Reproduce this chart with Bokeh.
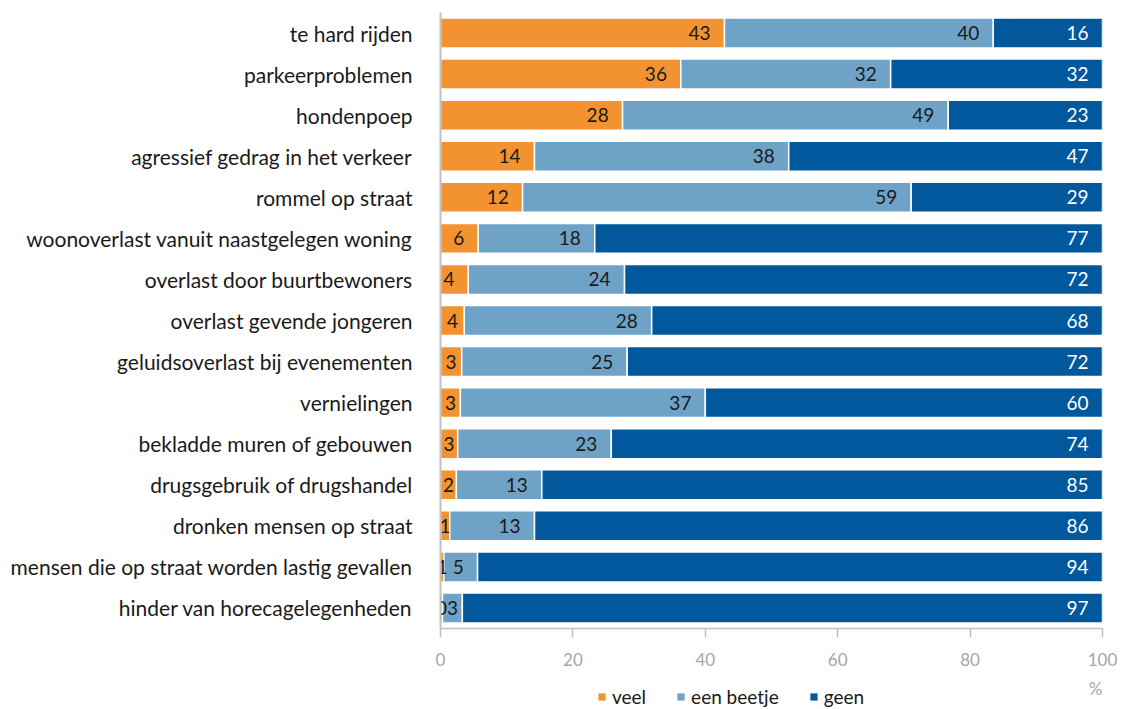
from bokeh.plotting import figure
from bokeh.layouts import column
from bokeh.models import ColumnDataSource, Legend, LegendItem, Label, FactorRange, Range1d
from bokeh.core.properties import value
from bokeh.embed import file_html
from bokeh.resources import INLINE

categories = [
    "te hard rijden",
    "parkeerproblemen",
    "hondenpoep",
    "agressief gedrag in het verkeer",
    "rommel op straat",
    "woonoverlast vanuit naastgelegen woning",
    "overlast door buurtbewoners",
    "overlast gevende jongeren",
    "geluidsoverlast bij evenementen",
    "vernielingen",
    "bekladde muren of gebouwen",
    "drugsgebruik of drugshandel",
    "dronken mensen op straat",
    "mensen die op straat worden lastig gevallen",
    "hinder van horecagelegenheden",
]
veel = [42.9, 36.3, 27.5, 14.2, 12.4, 5.7, 4.2, 3.6, 3.2, 3.0, 2.6, 2.4, 1.4, 0.5, 0.3]
een_beetje = [40.6, 31.7, 49.2, 38.4, 58.7, 17.6, 23.6, 28.3, 25.0, 37.0, 23.2, 12.9, 12.8, 5.1, 3.0]
geen = [16.5, 32.0, 23.3, 47.4, 28.9, 76.7, 72.2, 68.1, 71.8, 60.0, 74.2, 84.7, 85.8, 94.4, 96.7]
veel_lbl = [43, 36, 28, 14, 12, 6, 4, 4, 3, 3, 3, 2, 1, 1, 0]
een_beetje_lbl = [40, 32, 49, 38, 59, 18, 24, 28, 25, 37, 23, 13, 13, 5, 3]
geen_lbl = [16, 32, 23, 47, 29, 77, 72, 68, 72, 60, 74, 85, 86, 94, 97]
series_names = ["veel", "een beetje", "geen"]
tick_values = [0, 20, 40, 60, 80, 100]
unit_label = "%"

colors = ["#F29230", "#6EA2C7", "#02589C"]
label_colors = ["#1a1a1a", "#1a1a1a", "#ffffff"]
FONT = "Lato"

p = figure(
    frame_width=662, frame_height=616,
    y_range=FactorRange(*categories[::-1]),
    x_range=Range1d(0, 100),
    output_backend="svg", toolbar_location=None,
    min_border_left=440, min_border_right=19, min_border_top=12, min_border_bottom=42,
)
p.outline_line_color = None
p.xgrid.grid_line_color = None
p.ygrid.grid_line_color = None

all_vals = [veel, een_beetje, geen]
all_lbls = [veel_lbl, een_beetje_lbl, geen_lbl]
lefts = [0.0] * len(categories)
right_lbl = dict(x=[], y=[], t=[], c=[])
center_lbl = dict(x=[], y=[], t=[], c=[])
inset = 2.1
digit_w = 1.2
for k in range(3):
    vals = all_vals[k]
    rights = [l + v for l, v in zip(lefts, vals)]
    src = ColumnDataSource(dict(y=categories, left=lefts, right=rights))
    p.hbar(y="y", left="left", right="right", height=0.73, source=src,
           fill_color=colors[k], line_color="white", line_width=1.5)
    for i, cat in enumerate(categories):
        txt = str(all_lbls[k][i])
        s, e = lefts[i], rights[i]
        if e - inset - len(txt) * digit_w >= s + 0.6:
            d = right_lbl
            xpos = e - inset
        else:
            d = center_lbl
            xpos = (s + e) / 2
        d["x"].append(xpos)
        d["y"].append(cat)
        d["t"].append(txt)
        d["c"].append(label_colors[k])
    lefts = rights

for d, align in [(right_lbl, "right"), (center_lbl, "center")]:
    p.text(x="x", y="y", text="t", text_color="c", source=ColumnDataSource(d),
           text_align=align, text_baseline="middle",
           text_font=value(FONT), text_font_size="19px")

# axes
p.xaxis.ticker = tick_values
p.xaxis.axis_line_color = "#c0c0c0"
p.xaxis.axis_line_width = 1.5
p.xaxis.major_tick_line_color = "#c0c0c0"
p.xaxis.major_tick_line_width = 1.5
p.xaxis.major_tick_out = 9
p.xaxis.major_tick_in = 0
p.xaxis.minor_tick_line_color = None
p.xaxis.major_label_text_color = "#a6a6a6"
p.xaxis.major_label_text_font = FONT
p.xaxis.major_label_text_font_size = "17px"
p.xaxis.major_label_standoff = 15

p.yaxis.axis_line_color = "#c0c0c0"
p.yaxis.axis_line_width = 2
p.yaxis.major_tick_line_color = None
p.yaxis.minor_tick_line_color = None
p.yaxis.major_label_text_color = "#1a1a1a"
p.yaxis.major_label_text_font = FONT
p.yaxis.major_label_text_font_size = "21px"
p.yaxis.major_label_standoff = 22

# bottom strip: unit label and legend
p2 = figure(
    frame_width=662, frame_height=38,
    x_range=p.x_range, y_range=Range1d(0, 1),
    output_backend="svg", toolbar_location=None,
    min_border_left=440, min_border_right=19, min_border_top=0, min_border_bottom=0,
)
p2.axis.visible = False
p2.grid.grid_line_color = None
p2.outline_line_color = None

pct = Label(x=tick_values[-1], y=0.53, x_units="data", y_units="data", text=unit_label,
            text_align="right", text_baseline="middle",
            text_color="#a6a6a6", text_font=FONT, text_font_size="17px")
p2.add_layout(pct)

# legend proxies (kept outside the visible y range of the strip)
leg_renderers = []
for k in range(3):
    proxy = ColumnDataSource(dict(y=[-5.0], left=[0.0], right=[all_vals[k][0]]))
    leg_renderers.append(
        p2.hbar(y="y", left="left", right="right", height=0.5, source=proxy,
                fill_color=colors[k], line_color=None)
    )
legend = Legend(
    items=[LegendItem(label=series_names[k], renderers=[leg_renderers[k]]) for k in range(3)],
    orientation="horizontal", location=(157, 0),
    glyph_width=9, glyph_height=9, spacing=30, label_standoff=6,
    label_text_font=FONT, label_text_font_size="19px", label_text_color="#1a1a1a",
    border_line_color=None, background_fill_alpha=0, padding=0, margin=0,
)
p2.add_layout(legend, "center")

layout = column(p, p2, spacing=0)
open("out.html", "w").write(file_html(layout, INLINE))
